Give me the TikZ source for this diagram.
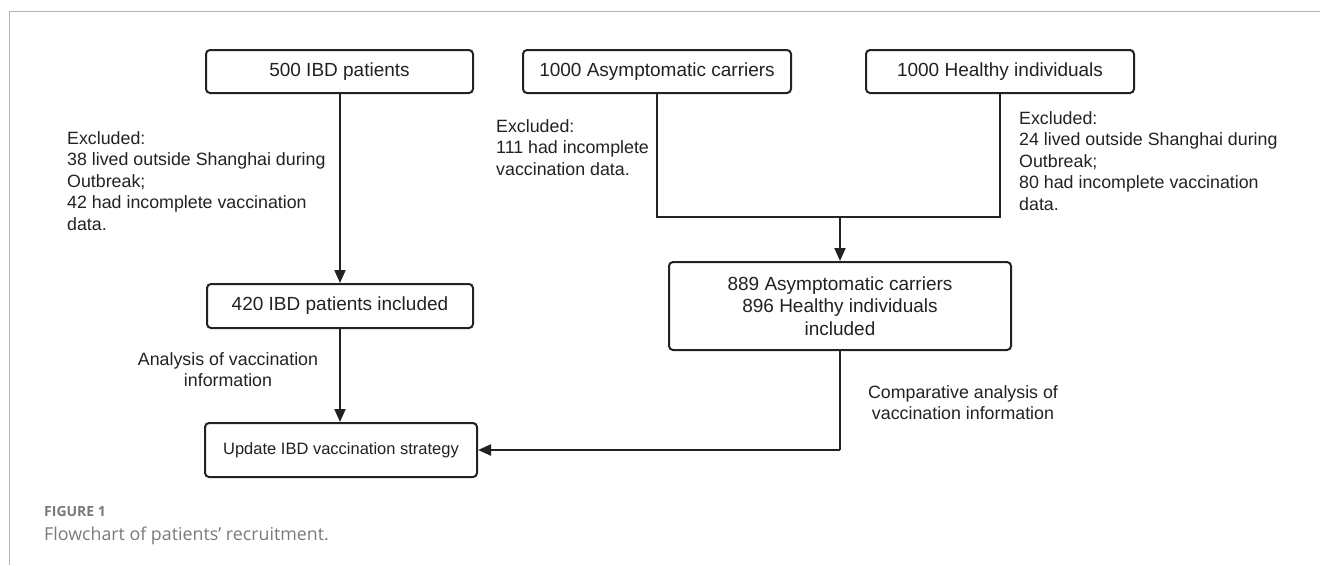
\documentclass[tikz,border=0pt]{standalone}
\usepackage{fontspec}
\setmainfont{Liberation Sans}
\newfontfamily\capfont{Open Sans}
\usetikzlibrary{arrows.meta}
\definecolor{ink}{HTML}{222222}
\definecolor{framegray}{HTML}{B4B4B4}
\definecolor{capgray}{HTML}{7A7A7A}
\tikzset{
  box/.style={draw=ink, line width=2pt, rounded corners=4pt, fill=white, inner sep=0pt, align=center, font=\fontsize{19}{22.5}\selectfont, text=ink},
  lbl/.style={inner sep=0pt, font=\fontsize{17.8}{21.5}\selectfont, text=ink},
  conn/.style={draw=ink, line width=2pt},
  arr/.style={conn, -{Triangle[length=13pt,width=11pt]}}
}
\begin{document}
\begin{tikzpicture}[x=1pt,y=-1pt]
\useasboundingbox (0,0) rectangle (1320,565);
\draw[framegray, line width=1pt] (1320,11) -- (9,11) -- (9,565);
% boxes
\node[box, minimum width=267pt, minimum height=43pt] (a) at (339.5,71.5) {500 IBD patients};
\node[box, minimum width=268pt, minimum height=43pt] (b) at (657,71.5) {1000 Asymptomatic carriers};
\node[box, minimum width=268pt, minimum height=43pt] (c) at (1000,71.5) {1000 Healthy individuals};
\node[box, minimum width=266pt, minimum height=44pt] (e) at (340,306) {420 IBD patients included};
\node[box, minimum width=342pt, minimum height=88pt] (d) at (840,306) {889 Asymptomatic carriers\\896 Healthy individuals\\included};
\node[box, minimum width=272pt, minimum height=54pt, font=\fontsize{16.5}{20}\selectfont] (f) at (341,450) {Update IBD vaccination strategy};
% labels
\node[lbl, anchor=north west, align=left] (exa) at (67,131) {Excluded:\\38 lived outside Shanghai during\\Outbreak;\\42 had incomplete vaccination\\data.};
\node[lbl, anchor=north west, align=left] (exb) at (496,119) {Excluded:\\111 had incomplete\\vaccination data.};
\node[lbl, anchor=north west, align=left] (exc) at (1019,111) {Excluded:\\24 lived outside Shanghai during\\Outbreak;\\80 had incomplete vaccination\\data.};
\node[lbl, anchor=north, align=center] (ana) at (228,352) {Analysis of vaccination\\information};
\node[lbl, anchor=north, align=center] (cmp) at (963,385) {Comparative analysis of\\vaccination information};
% connectors
\coordinate (jb) at (657,217);
\coordinate (jc) at (1000,217);
\coordinate (jm) at (840,217);
\coordinate (jd) at (840,450);
\draw[arr] (a.south -| e.north) -- (e.north);
\draw[arr] (e.south) -- (e.south |- f.north);
\draw[conn] (b.south) -- (jb) -- (jc) -- (c.south);
\draw[arr] (jm) -- (d.north);
\draw[conn] (d.south) -- (jd);
\draw[arr] (jd) -- (f.east);
% caption
\node[inner sep=0pt, anchor=base west, text=capgray, font=\capfont\bfseries\fontsize{14}{16}\selectfont] (fig) at (44,516) {FIGURE 1};
\node[inner sep=0pt, anchor=base west, text=capgray, font=\capfont\fontsize{17.8}{22}\selectfont] (cap) at (44,540) {Flowchart of patients’ recruitment.};
\end{tikzpicture}
\end{document}
